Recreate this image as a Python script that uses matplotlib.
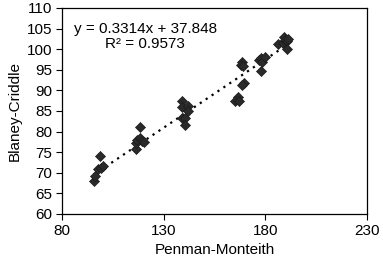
import numpy as np
import matplotlib
matplotlib.use('Agg')
import matplotlib.pyplot as plt

plt.rcParams['font.family'] = ['Liberation Sans', 'DejaVu Sans']

# Penman-Monteith vs Blaney-Criddle
pm = [95.5, 96.2, 97.5, 98.5, 99.2, 100.3,
      116.5, 116.4, 117.0, 118.3, 118.6, 119.5, 120.5,
      138.8, 139.2, 141.8, 142.0, 139.1, 140.6, 140.5,
      168.3, 168.0, 169.1, 169.6, 168.3, 166.7, 165.0, 167.2,
      177.0, 177.8, 178.2, 179.8, 177.8,
      186.3, 188.8, 189.3, 189.6, 190.5, 190.8, 191.3]
bc = [68.1, 69.2, 71.0, 74.1, 71.2, 71.6,
      75.7, 77.2, 78.0, 78.4, 81.0, 77.7, 77.4,
      87.3, 85.9, 86.3, 85.0, 83.2, 83.2, 81.6,
      97.0, 96.2, 95.8, 91.8, 91.3, 88.5, 87.3, 87.3,
      97.4, 97.8, 97.0, 98.0, 94.8,
      101.3, 101.4, 102.9, 102.2, 101.9, 100.0, 102.4]

slope, intercept = 0.3314, 37.848
r2 = 0.9573

fig = plt.figure(figsize=(3.83, 2.58), dpi=100)
ax = fig.add_axes([0.162, 0.171, 0.796, 0.798])

ax.scatter(pm, bc, marker='D', s=26, color='#2a2a2a', edgecolors='#1a1a1a',
           linewidths=0.5, zorder=3)

xs = np.array([min(pm), max(pm)])
ax.plot(xs, slope * xs + intercept, linestyle=(0, (1, 2.2)), color='black',
        linewidth=1.6, zorder=2)

ax.text(121, 103.1, 'y = %.4fx + %.3f\nR² = %.4f' % (slope, intercept, r2),
        ha='center', va='center', fontsize=11, linespacing=1.1)

ax.set_xlim(80, 230)
ax.set_ylim(60, 110)
ax.set_xticks([80, 130, 180, 230])
ax.set_yticks(range(60, 111, 5))
ax.tick_params(labelsize=11, direction='out', length=4, width=0.8, pad=3)
for s in ax.spines.values():
    s.set_linewidth(0.9)

ax.set_xlabel('Penman-Monteith', fontsize=11, labelpad=4)
ax.set_ylabel('Blaney-Criddle', fontsize=11, labelpad=4)

fig.savefig('out.png', dpi=100)
